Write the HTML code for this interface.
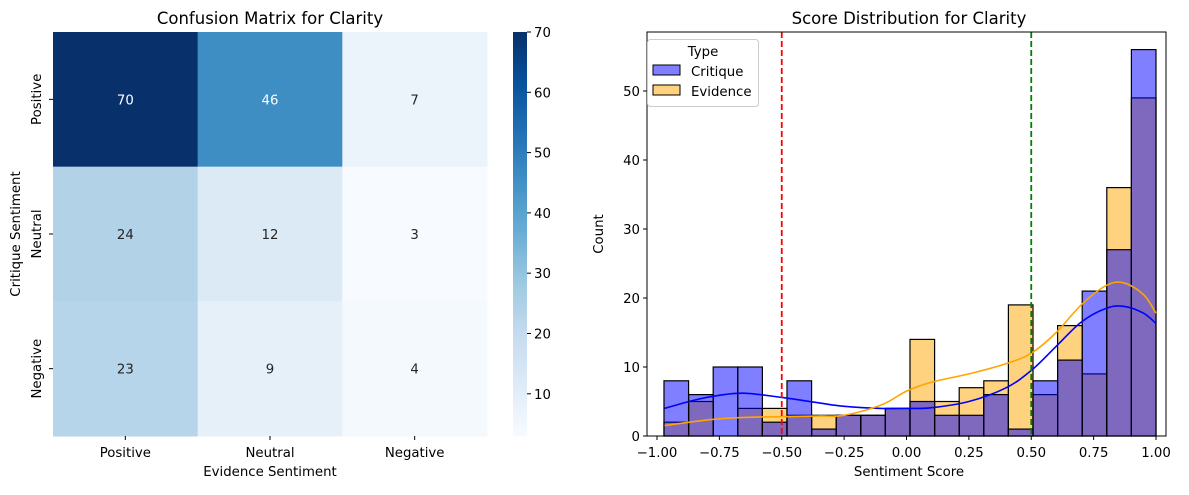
<!DOCTYPE html>
<html><head><meta charset="utf-8"><style>
body{margin:0;background:#fff;font-family:"Liberation Sans","DejaVu Sans",sans-serif}
svg text{font-family:"DejaVu Sans","Liberation Sans",sans-serif}
</style></head><body>
<svg id="s" width="1189" height="490" xmlns="http://www.w3.org/2000/svg"></svg>
<script>
const hmRows=["Positive","Neutral","Negative"];
const hmCols=["Positive","Neutral","Negative"];
const hmValues=[[70,46,7],[24,12,3],[23,9,4]];
const cbTicks=[10,20,30,40,50,60,70];
const binStart=-0.972, binWidth=0.0986;
const critiqueCounts=[8,6,10,10,2,8,1,3,3,4,5,3,3,6,1,8,11,21,27,56];
const evidenceCounts=[2,5,0,4,4,3,3,3,3,4,14,5,7,8,19,6,16,9,36,49];
const kdeX=[-0.97,-0.85,-0.75,-0.65,-0.5,-0.35,-0.25,-0.1,0,0.1,0.25,0.4,0.5,0.6,0.7,0.8,0.87,0.95,1.0];
const kdeCritique=[4,5.2,5.9,6.2,5.6,4.8,4.3,4,4,4.1,5,7,9.5,13,16.5,18.5,18.8,17.8,16.3];
const kdeEvidence=[1.5,2.1,2.5,2.7,2.8,2.9,3,4.5,6.5,7.8,9,10.5,12,15,19,21.8,22.2,20.5,17.8];
const xTicks=[-1,-0.75,-0.5,-0.25,0,0.25,0.5,0.75,1];
const yTicks=[0,10,20,30,40,50];
const vlines=[{v:-0.5,c:"red"},{v:0.5,c:"green"}];

const FS=13.3, TS=16.5;
const S=document.getElementById('s');
function mk(t,a,txt){const e=document.createElementNS('http://www.w3.org/2000/svg',t);for(const k in a)e.setAttribute(k,a[k]);if(txt!==undefined)e.textContent=txt;S.appendChild(e);return e;}

const blues=["#f7fbff","#deebf7","#c6dbef","#9ecae1","#6baed6","#4292c6","#2171b5","#08519c","#08306b"];
function hex(h){return[1,3,5].map(i=>parseInt(h.substr(i,2),16));}
function cmap(t){t=Math.max(0,Math.min(1,t));const p=t*8,i=Math.min(7,Math.floor(p)),f=p-i;const a=hex(blues[i]),b=hex(blues[i+1]);return`rgb(${a.map((v,k)=>Math.round(v+(b[k]-v)*f)).join(',')})`;}
const vmin=3,vmax=70;
const HX=53,HY=32,HW=434,HH=404;
const cw=HW/3,ch=HH/3;
let t=mk('text',{x:270,y:24,'text-anchor':'middle','font-size':TS},'Confusion Matrix for Clarity');

hmValues.forEach((row,r)=>row.forEach((v,c)=>{
 const rc=mk('rect',{x:HX+c*cw,y:HY+r*ch,width:cw+0.5,height:ch+0.5,fill:cmap((v-vmin)/(vmax-vmin))});
 
 const tx=mk('text',{x:HX+c*cw+cw/2,y:HY+r*ch+ch/2+5,'text-anchor':'middle','font-size':FS,fill:(v-vmin)/(vmax-vmin)>0.55?'#fff':'#262626'},String(v));
 
}));
hmCols.forEach((n,c)=>{const x=HX+c*cw+cw/2;mk('line',{x1:x,x2:x,y1:436,y2:440,stroke:'#000'});
 const e=mk('text',{x:x,y:457,'text-anchor':'middle','font-size':FS},n);});
hmRows.forEach((n,r)=>{const y=HY+r*ch+ch/2;mk('line',{x1:49,x2:53,y1:y,y2:y,stroke:'#000'});
 const e=mk('text',{x:0,y:0,'text-anchor':'middle','font-size':FS,transform:`translate(41,${y}) rotate(-90)`},n);});
t=mk('text',{x:270,y:476,'text-anchor':'middle','font-size':FS},'Evidence Sentiment');
t=mk('text',{x:0,y:0,'text-anchor':'middle','font-size':FS,transform:'translate(20,234) rotate(-90)'},'Critique Sentiment');
const CX=513,CW=14;
for(let i=0;i<404;i++){mk('rect',{x:CX,y:HY+i,width:CW,height:1.2,fill:cmap(1-i/403)});}
const cby=v=>436-(v-vmin)/(vmax-vmin)*404;
cbTicks.forEach(v=>{const y=cby(v);mk('line',{x1:CX+CW,x2:CX+CW+4,y1:y,y2:y,stroke:'#000'});
 const e=mk('text',{x:CX+CW+7,y:y+5,'font-size':FS},String(v));});

const PX=647,PY=32,PW=519,PH=404;
const xs=v=>657+(v+1)*249.5;
const ys=v=>436-v*6.9;
t=mk('text',{x:909,y:24,'text-anchor':'middle','font-size':TS},'Score Distribution for Clarity');
function bars(arr,fill,name){arr.forEach((v,i)=>{if(!v)return;const x0=xs(binStart+i*binWidth),x1=xs(binStart+(i+1)*binWidth);
 const b=mk('rect',{x:x0,y:ys(v),width:x1-x0,height:ys(0)-ys(v),fill:fill,'fill-opacity':0.5,stroke:'#000','stroke-width':1.2});
 });}
bars(evidenceCounts,'#ffa500','evidence-bar');
bars(critiqueCounts,'#0000ff','critique-bar');
function line(arr,c,name){
 const P=arr.map((v,i)=>[xs(kdeX[i]),ys(v)]);
 let d='M'+P[0][0].toFixed(1)+','+P[0][1].toFixed(1);
 for(let i=0;i<P.length-1;i++){const p0=P[Math.max(0,i-1)],p1=P[i],p2=P[i+1],p3=P[Math.min(P.length-1,i+2)];
  const c1=[p1[0]+(p2[0]-p0[0])/6,p1[1]+(p2[1]-p0[1])/6],c2=[p2[0]-(p3[0]-p1[0])/6,p2[1]-(p3[1]-p1[1])/6];
  d+=`C${c1[0].toFixed(1)},${c1[1].toFixed(1)} ${c2[0].toFixed(1)},${c2[1].toFixed(1)} ${p2[0].toFixed(1)},${p2[1].toFixed(1)}`;}
 const p=mk('path',{d:d,fill:'none',stroke:c,'stroke-width':1.6});}
line(kdeCritique,'#0000ff','critique-kde');
line(kdeEvidence,'#ffa500','evidence-kde');
vlines.forEach(l=>{const x=xs(l.v);const e=mk('line',{x1:x,x2:x,y1:PY,y2:436,stroke:l.c,'stroke-width':1.8,'stroke-dasharray':'6,3'});});
mk('rect',{x:PX,y:PY,width:PW,height:PH,fill:'none',stroke:'#000','stroke-width':1});
xTicks.forEach(v=>{const x=xs(v);mk('line',{x1:x,x2:x,y1:436,y2:440,stroke:'#000'});
 const e=mk('text',{x:x,y:457,'text-anchor':'middle','font-size':FS},v.toFixed(2).replace('-','\u2212'));});
yTicks.forEach(v=>{const y=ys(v);mk('line',{x1:PX-4,x2:PX,y1:y,y2:y,stroke:'#000'});
 const e=mk('text',{x:PX-7,y:y+5,'text-anchor':'end','font-size':FS},String(v));});
t=mk('text',{x:909,y:476,'text-anchor':'middle','font-size':FS},'Sentiment Score');
t=mk('text',{x:0,y:0,'text-anchor':'middle','font-size':FS,transform:'translate(603,234) rotate(-90)'},'Count');
const lg=mk('rect',{x:647.5,y:39.5,width:111,height:67,rx:3,fill:'#fff','fill-opacity':0.8,stroke:'#ccc'});
t=mk('text',{x:703,y:56,'text-anchor':'middle','font-size':FS},'Type');
[['Critique','#0000ff',72],['Evidence','#ffa500',92]].forEach(([n,c,y])=>{
 mk('rect',{x:653,y:y-7,width:27,height:10,fill:c,'fill-opacity':0.5,stroke:'#000'});
 const e=mk('text',{x:691,y:y+4,'font-size':FS},n);});
</script>
</body></html>
